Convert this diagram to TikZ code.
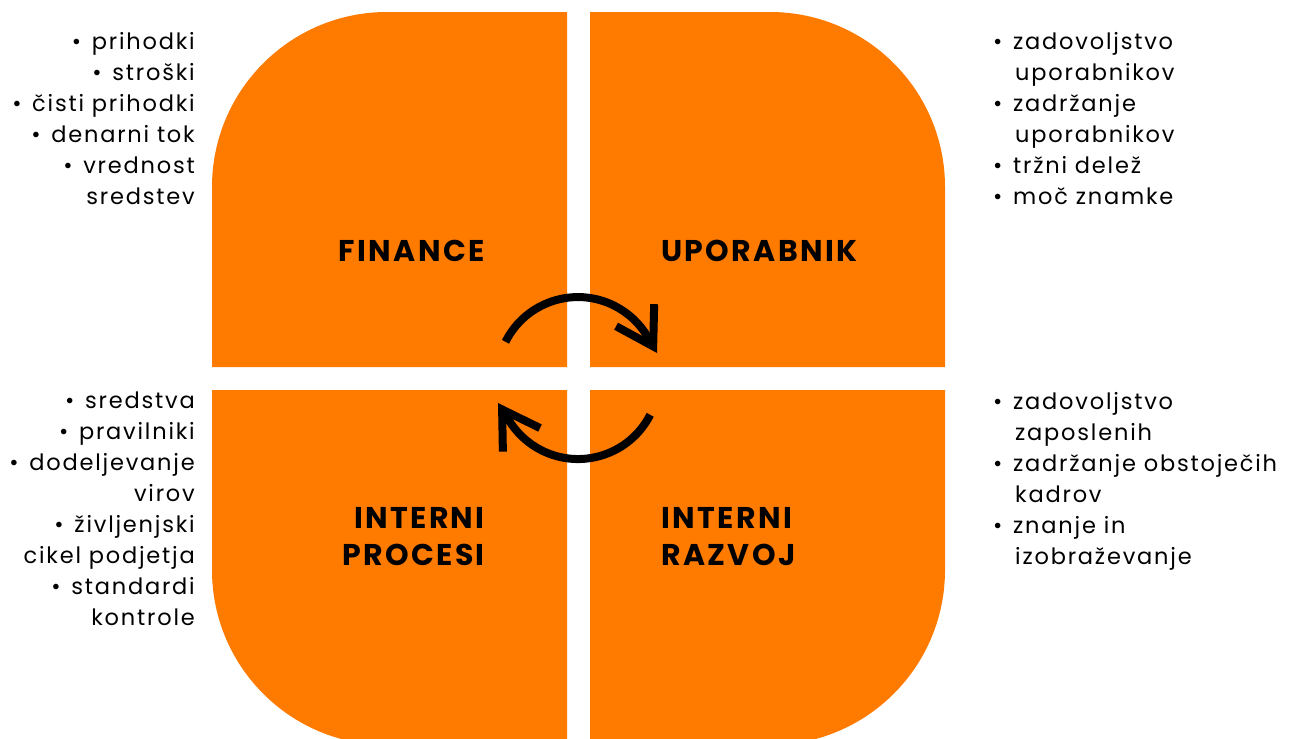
\documentclass[tikz,border=0pt]{standalone}
\usepackage{fontspec}
\setmainfont{Poppins}
\newfontfamily\listfont[LetterSpace=8]{Poppins}
\newfontfamily\titlefont[LetterSpace=8]{Poppins}
\usetikzlibrary{arrows.meta}
\definecolor{quadorange}{HTML}{FF7B00}
\newcommand\blt{\makebox[20pt][l]{•}}
\newcommand\ind{\hspace*{22pt}}
\begin{document}
\begin{tikzpicture}[x=1pt,y=-1pt,
  quad/.style={fill=quadorange},
  title/.style={font=\titlefont\fontsize{30}{37}\selectfont\bfseries, inner sep=0pt, text=black},
  listtxt/.style={font=\listfont\fontsize{22.5}{31}\selectfont, inner sep=0pt, text=black},
  cyc/.style={line width=8pt, line join=round, -{Straight Barb[sharp, length=36pt, width=44pt]}}]
\clip (0,0) rectangle (1291,739);
% quadrants
\fill[quad] (567,367) -- (212,367) -- (212,187) arc[start angle=180, end angle=270, radius=175] -- (567,12) -- cycle;
\fill[quad] (590,367) -- (590,12) -- (770,12) arc[start angle=270, end angle=360, radius=175] -- (945,367) -- cycle;
\fill[quad] (212,390) -- (567,390) -- (567,745) -- (387,745) arc[start angle=90, end angle=180, radius=175] -- cycle;
\fill[quad] (590,390) -- (945,390) -- (945,570) arc[start angle=0, end angle=90, radius=175] -- (590,745) -- cycle;
% titles (base anchor = baseline of the last line)
\node[title, anchor=base east] (fin) at (485,261) {FINANCE};
\node[title, anchor=base west] (upo) at (661,261) {UPORABNIK};
\node[title, anchor=base east, align=right] (proc) at (485,565) {INTERNI\\PROCESI};
\node[title, anchor=base west, align=left] (razv) at (661,565) {INTERNI\\RAZVOJ};
% cycle arrows
\coordinate (u1) at (505.5,341.8);
\coordinate (u2) at (657,353);
\coordinate (l1) at (650.2,414.8);
\coordinate (l2) at (498,403);
\draw[cyc] (u1) arc[start angle=-153.4, end angle=-30, radius=81] -- (u2);
\draw[cyc] (l1) arc[start angle=27, end angle=150, radius=81] -- (l2);
% lists
\node[listtxt, anchor=base east, align=right] (lfin) at (195,204)
  {\blt prihodki\\\blt stroški\\\blt čisti prihodki\\\blt denarni tok\\\blt vrednost\\sredstev};
\node[listtxt, anchor=base west, align=left] (lupo) at (993,204)
  {\blt zadovoljstvo\\\ind uporabnikov\\\blt zadržanje\\\ind uporabnikov\\\blt tržni delež\\\blt moč znamke};
\node[listtxt, anchor=base east, align=right] (lproc) at (195,625)
  {\blt sredstva\\\blt pravilniki\\\blt dodeljevanje\\virov\\\blt življenjski\\cikel podjetja\\\blt standardi\\kontrole};
\node[listtxt, anchor=base west, align=left] (lrazv) at (993,564)
  {\blt zadovoljstvo\\\ind zaposlenih\\\blt zadržanje obstoječih\\\ind kadrov\\\blt znanje in\\\ind izobraževanje};
\end{tikzpicture}
\end{document}
